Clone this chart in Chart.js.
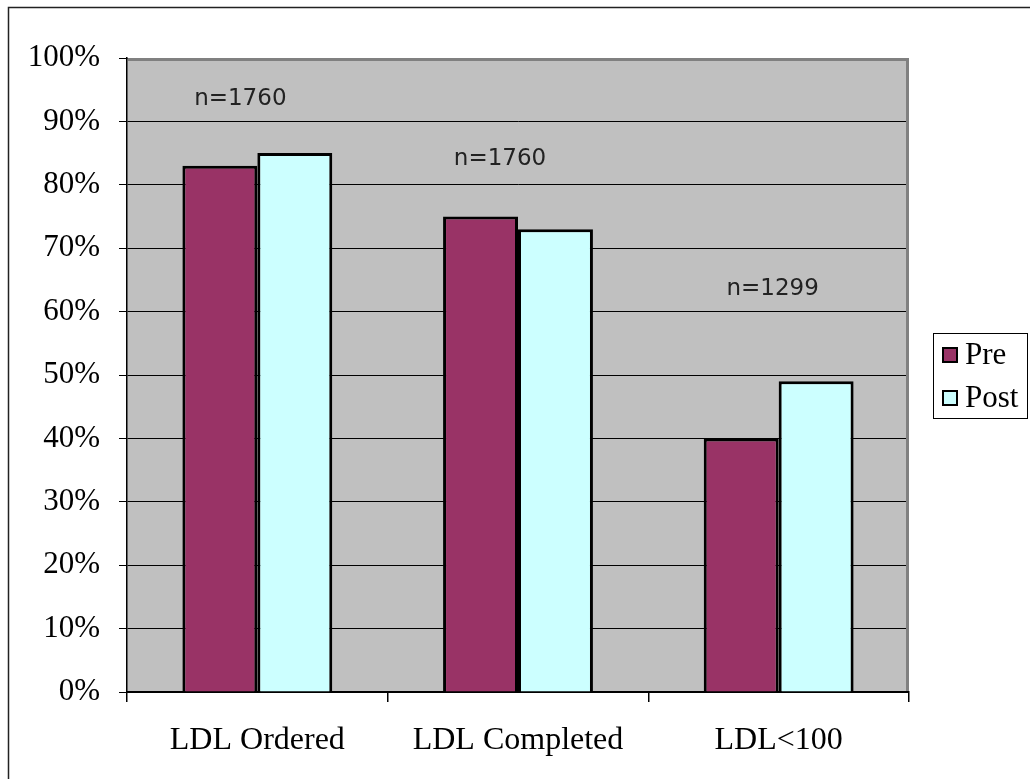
<!DOCTYPE html>
<html>
<head>
<meta charset="utf-8">
<script src="https://cdn.jsdelivr.net/npm/chart.js@4.4.1/dist/chart.umd.min.js"></script>
<style>
  html, body { margin: 0; padding: 0; background: #fff; }
  canvas { display: block; }
</style>
</head>
<body>
<canvas id="ldl-chart" width="1030" height="779"></canvas>
<script>
// LDL measures before and after the intervention
const categories = ['LDL Ordered', 'LDL Completed', 'LDL<100'];
const preValues = [83, 75, 40];
const postValues = [85, 73, 49];
const yTicks = [0, 10, 20, 30, 40, 50, 60, 70, 80, 90, 100];

// sample sizes printed above each group, with the height (in %) they sit at
const sampleLabels = ['n=1760', 'n=1760', 'n=1299'];
const sampleHeights = [93.5, 84, 63.5];
const sampleShift = [-17, -18, -6];

const serif = '"Liberation Serif", "Times New Roman", serif';

// grey plot area with the darker frame on top and right
const plotFrame = {
  id: 'plotFrame',
  beforeDraw(chart) {
    const { ctx, chartArea: a } = chart;
    ctx.save();
    ctx.fillStyle = '#c0c0c0';
    ctx.fillRect(a.left, a.top, a.right - a.left, a.bottom - a.top);
    ctx.restore();
  },
  afterDatasetsDraw(chart) {
    const { ctx, chartArea: a } = chart;
    ctx.save();
    ctx.fillStyle = '#808080';
    ctx.fillRect(a.left + 1, a.top, a.right - a.left - 1, 3);
    ctx.fillRect(a.right - 3, a.top, 3, a.bottom - a.top - 1);
    ctx.restore();
  }
};

// n= labels over each group
const sampleText = {
  id: 'sampleText',
  afterDatasetsDraw(chart) {
    const { ctx, scales } = chart;
    ctx.save();
    ctx.font = '23px "DejaVu Sans", Verdana, sans-serif';
    ctx.fillStyle = '#222';
    ctx.textAlign = 'center';
    ctx.textBaseline = 'middle';
    sampleLabels.forEach((t, i) => {
      const x = scales.x.getPixelForValue(i) + sampleShift[i];
      const y = scales.y.getPixelForValue(sampleHeights[i]);
      ctx.fillText(t, x, y);
    });
    ctx.restore();
  }
};

// boxed legend at the right, plus the outer chart frame
const boxLegend = {
  id: 'boxLegend',
  afterDraw(chart) {
    const { ctx } = chart;
    ctx.save();
    ctx.strokeStyle = '#000';
    ctx.lineWidth = 1;
    ctx.strokeRect(933.5, 333.5, 94, 85);
    ctx.font = '31px ' + serif;
    ctx.textBaseline = 'middle';
    ctx.textAlign = 'left';
    chart.data.datasets.forEach((ds, i) => {
      const cy = 355 + i * 43;
      ctx.fillStyle = ds.backgroundColor;
      ctx.fillRect(943, cy - 7, 14, 14);
      ctx.lineWidth = 2;
      ctx.strokeRect(943, cy - 7, 14, 14);
      ctx.fillStyle = '#000';
      ctx.fillText(ds.label, 965, cy + 1);
    });
    // outer frame
    ctx.strokeStyle = '#222';
    ctx.lineWidth = 1.5;
    ctx.beginPath();
    ctx.moveTo(8.5, 779);
    ctx.lineTo(8.5, 7.5);
    ctx.lineTo(1030, 7.5);
    ctx.stroke();
    ctx.restore();
  }
};

new Chart(document.getElementById('ldl-chart'), {
  type: 'bar',
  data: {
    labels: categories,
    datasets: [
      {
        label: 'Pre',
        data: preValues,
        backgroundColor: '#993366',
        borderColor: '#000',
        borderWidth: 3,
        borderSkipped: 'bottom'
      },
      {
        label: 'Post',
        data: postValues,
        backgroundColor: '#ccffff',
        borderColor: '#000',
        borderWidth: 3,
        borderSkipped: 'bottom'
      }
    ]
  },
  options: {
    responsive: false,
    animation: false,
    layout: { padding: { top: 58, right: 121, left: 0, bottom: 0 } },
    categoryPercentage: 0.575,
    barPercentage: 1,
    plugins: {
      legend: { display: false },
      tooltip: { enabled: false }
    },
    scales: {
      x: {
        afterFit(scale) { scale.height = 87; },
        grid: {
          display: true,
          drawOnChartArea: false,
          drawTicks: true,
          tickLength: 10,
          color: '#000',
          lineWidth: 1.5,
          offset: true
        },
        border: { display: true, color: '#000', width: 2 },
        ticks: {
          color: '#000',
          padding: 19,
          font: { family: serif, size: 32 }
        }
      },
      y: {
        min: 0,
        max: 100,
        afterFit(scale) { scale.width = 127; },
        afterBuildTicks(scale) { scale.ticks = yTicks.map(v => ({ value: v })); },
        grid: {
          color: '#000',
          lineWidth: 1,
          drawTicks: true,
          tickLength: 8
        },
        border: { display: true, color: '#000', width: 1.5 },
        ticks: {
          color: '#000',
          padding: 19,
          font: { family: serif, size: 31 },
          callback: v => v + '%'
        }
      }
    }
  },
  plugins: [plotFrame, sampleText, boxLegend]
});
</script>
</body>
</html>
